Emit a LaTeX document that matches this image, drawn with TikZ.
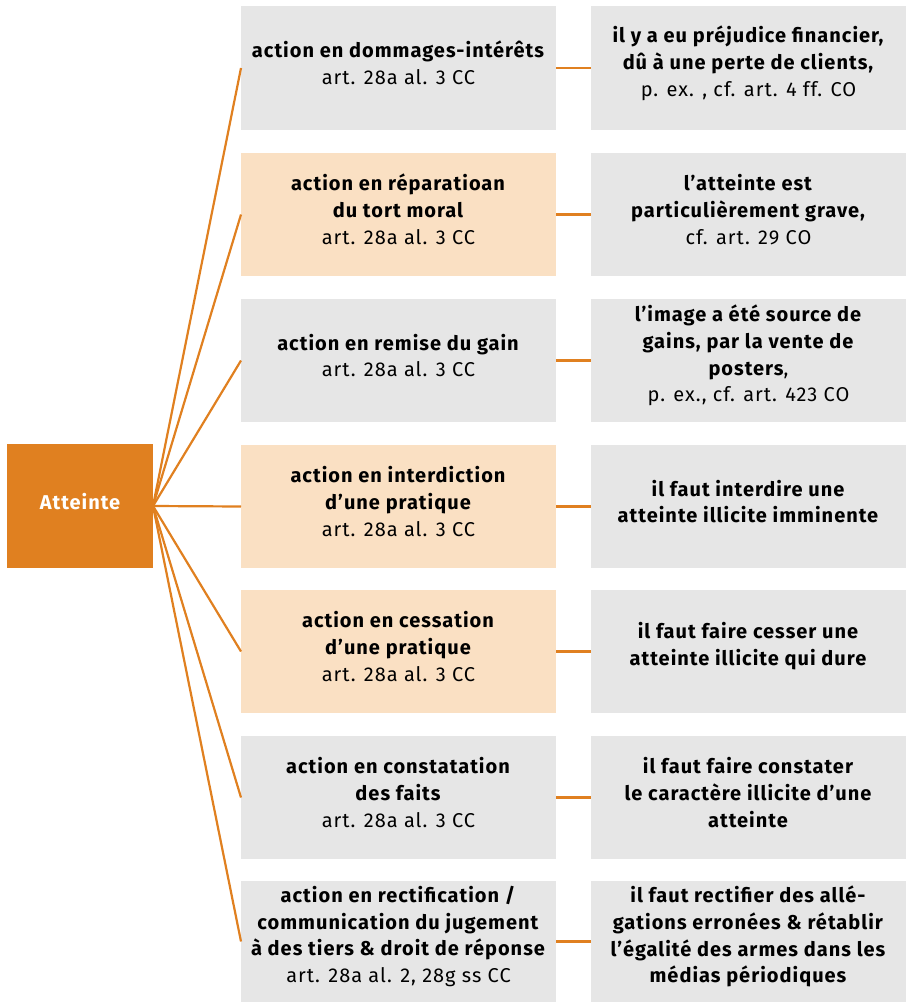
\documentclass[tikz,border=0pt]{standalone}
\usepackage{fontspec}
\setmainfont{Fira Sans}[LetterSpace=5]
\definecolor{orng}{RGB}{224,128,32}
\definecolor{peach}{RGB}{250,224,195}
\definecolor{grayb}{RGB}{230,230,230}
\begin{document}
\begin{tikzpicture}[x=1pt,y=-1pt,
  box/.style={inner sep=0pt,outer sep=0pt,minimum width=315pt},
  gbox/.style={box,fill=grayb},
  pbox/.style={box,fill=peach},
  txt/.style={inner sep=0pt,align=center,font=\fontsize{20}{26.8}\selectfont},
  link/.style={draw=orng,line width=2.2pt}]
\useasboundingbox (0,0) rectangle (906,1002);
\node[fill=orng,minimum width=146pt,minimum height=124pt,inner sep=0pt,outer sep=0pt] (A) at (80,506) {};
\node[text=white,font=\fontsize{20}{20}\selectfont\bfseries,inner sep=0pt] (At) at ([yshift=4pt]A.center) {Atteinte};
% middle column boxes
\node[gbox,minimum height=124pt] (m1) at (398.5,68) {};
\node[pbox,minimum height=123pt] (m2) at (398.5,214.5) {};
\node[gbox,minimum height=123pt] (m3) at (398.5,360.5) {};
\node[pbox,minimum height=123pt] (m4) at (398.5,506.5) {};
\node[pbox,minimum height=123pt] (m5) at (398.5,651.5) {};
\node[gbox,minimum height=123pt] (m6) at (398.5,797.5) {};
\node[gbox,minimum height=121pt] (m7) at (398.5,941.5) {};
% right column boxes
\node[gbox,minimum height=124pt] (r1) at (748.5,68) {};
\node[gbox,minimum height=123pt] (r2) at (748.5,214.5) {};
\node[gbox,minimum height=123pt] (r3) at (748.5,360.5) {};
\node[gbox,minimum height=123pt] (r4) at (748.5,506.5) {};
\node[gbox,minimum height=123pt] (r5) at (748.5,651.5) {};
\node[gbox,minimum height=123pt] (r6) at (748.5,797.5) {};
\node[gbox,minimum height=121pt] (r7) at (748.5,941.5) {};
% middle texts
\node[txt] (m1t) at ([yshift=5pt]m1.center) {\textbf{action en dommages-intérêts}\\art. 28a al. 3 CC};
\node[txt] (m2t) at ([yshift=5pt]m2.center) {\textbf{action en réparatioan}\\\textbf{du tort moral}\\art. 28a al. 3 CC};
\node[txt] (m3t) at ([yshift=5pt]m3.center) {\textbf{action en remise du gain}\\art. 28a al. 3 CC};
\node[txt] (m4t) at ([yshift=5pt]m4.center) {\textbf{action en interdiction}\\\textbf{d’une pratique}\\art. 28a al. 3 CC};
\node[txt] (m5t) at ([yshift=5pt]m5.center) {\textbf{action en cessation}\\\textbf{d’une pratique}\\art. 28a al. 3 CC};
\node[txt] (m6t) at ([yshift=5pt]m6.center) {\textbf{action en constatation}\\\textbf{des faits}\\art. 28a al. 3 CC};
\node[txt] (m7t) at ([yshift=5pt]m7.center) {\textbf{action en rectification /}\\\textbf{communication du jugement}\\\textbf{à des tiers \& droit de réponse}\\art. 28a al. 2, 28g ss CC};
% right texts
\node[txt] (r1t) at ([yshift=5pt]r1.center) {\textbf{il y a eu préjudice financier,}\\\textbf{dû à une perte de clients,}\\p. ex. , cf. art. 4 ff. CO};
\node[txt] (r2t) at ([yshift=5pt]r2.center) {\textbf{l’atteinte est}\\\textbf{particulièrement grave,}\\cf. art. 29 CO};
\node[txt] (r3t) at ([yshift=5pt]r3.center) {\textbf{l’image a été source de}\\\textbf{gains, par la vente de}\\\textbf{posters},\\p. ex., cf. art. 423 CO};
\node[txt] (r4t) at ([yshift=5pt]r4.center) {\textbf{il faut interdire une}\\\textbf{atteinte illicite imminente}};
\node[txt] (r5t) at ([yshift=5pt]r5.center) {\textbf{il faut faire cesser une}\\\textbf{atteinte illicite qui dure}};
\node[txt] (r6t) at ([yshift=5pt]r6.center) {\textbf{il faut faire constater}\\\textbf{le caractère illicite d’une}\\\textbf{atteinte}};
\node[txt] (r7t) at ([yshift=5pt]r7.center) {\textbf{il faut rectifier des allé-}\\\textbf{gations erronées \& rétablir}\\\textbf{l’égalité des armes dans les}\\\textbf{médias périodiques}};
% connectors
\foreach \i in {1,...,7}{
  \draw[link] (A.east) -- (m\i.west);
  \draw[link] (m\i.east) -- (r\i.west);
}
\end{tikzpicture}
\end{document}
